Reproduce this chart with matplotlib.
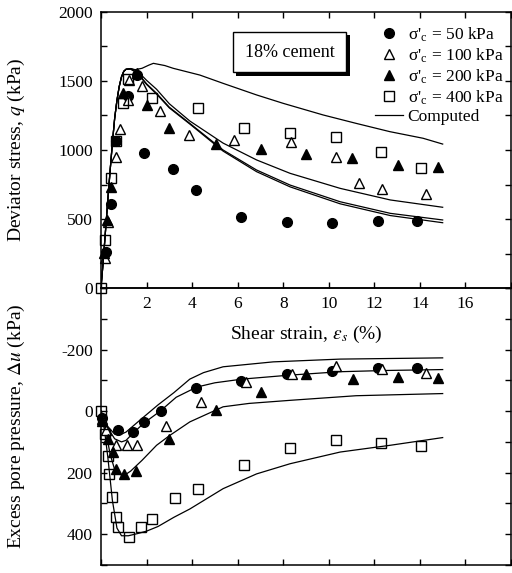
import matplotlib
matplotlib.use("Agg")
import matplotlib.pyplot as plt
import matplotlib.patheffects as pe

plt.rcParams["font.family"] = ["Liberation Serif", "DejaVu Serif"]
plt.rcParams["mathtext.fontset"] = "stix"

# --- deviator stress q (kPa) vs shear strain (%) ---
q50_x = [0.2, 0.43, 0.66, 1.17, 1.6, 1.9, 3.14, 4.17, 6.14, 8.16, 10.16, 12.18, 13.86]
q50_y = [263, 609, 1067, 1394, 1545, 976, 862, 710, 514, 481, 469, 488, 486]

q100_x = [0.18, 0.32, 0.66, 0.83, 1.17, 1.24, 1.81, 2.59, 3.86, 5.83, 8.33, 10.33, 11.33, 12.34, 14.25]
q100_y = [217, 480, 951, 1150, 1362, 1507, 1464, 1285, 1109, 1072, 1060, 951, 763, 715, 679]

q200_x = [0.13, 0.28, 0.42, 0.98, 1.6, 2.03, 2.98, 5.04, 7.02, 9.02, 11.04, 13.04, 14.8]
q200_y = [251, 493, 729, 1411, 1555, 1326, 1162, 1043, 1005, 971, 940, 891, 874]

q400_x = [0.0, 0.18, 0.42, 0.66, 0.95, 1.2, 2.22, 4.24, 6.27, 8.29, 10.3, 12.28, 14.04]
q400_y = [0, 348, 795, 1067, 1338, 1512, 1375, 1302, 1162, 1121, 1097, 988, 872]

# computed q curves
rise_x = [0.0, 0.1, 0.2, 0.3, 0.4, 0.5, 0.6, 0.7, 0.8, 0.9, 1.0, 1.1]
rise_y = [0, 200, 420, 640, 850, 1050, 1230, 1360, 1460, 1530, 1570, 1585]

qc400_x = rise_x + [1.3, 1.5, 1.8, 2.1, 2.3, 2.8, 3.17, 4.34, 5.36, 6.83, 8.0, 9.75, 11.2, 12.68, 14.14, 15.0]
qc400_y = rise_y + [1590, 1582, 1592, 1615, 1628, 1612, 1592, 1543, 1483, 1399, 1338, 1254, 1193, 1133, 1085, 1043]

qc200_x = rise_x + [1.3, 1.6, 2.0, 2.44, 3.0, 3.9, 5.36, 6.83, 8.3, 10.5, 12.7, 15.0]
qc200_y = rise_y + [1590, 1572, 1505, 1440, 1335, 1210, 1050, 928, 831, 722, 638, 585]

qc100_x = rise_x + [1.3, 1.6, 2.0, 2.44, 3.0, 3.9, 5.36, 6.83, 8.3, 10.5, 12.7, 15.0]
qc100_y = rise_y + [1588, 1560, 1480, 1411, 1310, 1193, 1000, 855, 746, 625, 541, 493]

qc50_x = rise_x + [1.3, 1.6, 2.0, 2.44, 3.0, 3.9, 5.36, 6.83, 8.3, 10.5, 12.7, 15.0]
qc50_y = rise_y + [1586, 1556, 1475, 1405, 1305, 1188, 992, 843, 733, 610, 525, 473]

# --- excess pore pressure du (kPa) vs shear strain (%) ---
u50_x = [0.03, 0.76, 1.39, 1.9, 2.62, 4.17, 6.14, 8.16, 10.16, 12.16, 13.86]
u50_y = [24, 62, 68, 37, 0, -76, -97, -122, -130, -141, -141]

u100_x = [0.05, 0.2, 0.66, 1.13, 1.59, 2.85, 4.39, 6.36, 8.37, 10.33, 12.34, 14.25]
u100_y = [27, 60, 111, 111, 111, 48, -30, -93, -122, -146, -138, -124]

u200_x = [0.05, 0.3, 0.54, 0.66, 1.02, 1.54, 3.0, 5.04, 7.02, 9.02, 11.07, 13.04, 14.8]
u200_y = [31, 90, 133, 187, 204, 196, 90, -3, -62, -119, -104, -111, -108]

u400_x = [0.0, 0.18, 0.29, 0.33, 0.47, 0.66, 0.76, 1.24, 1.74, 2.22, 3.27, 4.24, 6.27, 8.29, 10.3, 12.28, 14.04]
u400_y = [0, 73, 147, 204, 280, 345, 377, 410, 377, 350, 283, 252, 176, 119, 95, 103, 113]

uc_a_x = [0.0, 0.3, 0.6, 0.8, 1.1, 1.7, 2.5, 3.2, 3.9, 4.5, 5.36, 7.56, 10.5, 15.0]
uc_a_y = [0, 50, 75, 78, 68, 30, -20, -60, -104, -125, -144, -160, -169, -173]

uc_b_x = [0.0, 0.3, 0.6, 0.9, 1.1, 1.4, 1.9, 2.6, 3.3, 4.2, 5.0, 6.2, 8.3, 10.5, 12.5, 15.0]
uc_b_y = [0, 55, 90, 100, 95, 72, 38, 0, -45, -78, -92, -104, -117, -128, -132, -135]

uc_c_x = [0.0, 0.2, 0.4, 0.6, 0.8, 1.0, 1.3, 1.8, 2.44, 3.0, 3.9, 5.36, 6.5, 8.3, 11.2, 15.0]
uc_c_y = [0, 60, 140, 190, 205, 210, 195, 160, 111, 80, 35, -14, -25, -35, -50, -57]

uc_d_x = [0.0, 0.15, 0.3, 0.5, 0.7, 0.9, 1.2, 1.6, 2.0, 2.5, 3.2, 3.9, 5.36, 6.83, 8.3, 10.5, 12.7, 15.0]
uc_d_y = [0, 60, 150, 290, 380, 405, 405, 398, 390, 375, 345, 318, 252, 204, 171, 133, 111, 86]

x_ticks = list(range(0, 19, 2))
x_labels = ["" if t in (0, 18) else str(t) for t in x_ticks]

fig = plt.figure(figsize=(5.12, 5.73), dpi=100)
ax1 = fig.add_axes([101 / 512, 285 / 573, 410 / 512, 276 / 573])
ax2 = fig.add_axes([101 / 512, 8 / 573, 410 / 512, 277 / 573])
ax2.set_facecolor("none")

ms = 7
mk = dict(linestyle="none", markersize=ms, markeredgewidth=1.0, clip_on=False)

# top panel
ax1.plot(q50_x, q50_y, "o", color="black", label="σ'$_\\mathregular{c}$ = 50 kPa", **mk)
ax1.plot(q100_x, q100_y, "^", mfc="white", mec="black", label="σ'$_\\mathregular{c}$ = 100 kPa", **mk)
ax1.plot(q200_x, q200_y, "^", color="black", label="σ'$_\\mathregular{c}$ = 200 kPa", **mk)
ax1.plot(q400_x, q400_y, "s", mfc="none", mec="black", label="σ'$_\\mathregular{c}$ = 400 kPa", **mk)
ax1.plot(qc400_x, qc400_y, "-", color="black", lw=0.9, label="Computed")
ax1.plot(qc200_x, qc200_y, "-", color="black", lw=0.9)
ax1.plot(qc100_x, qc100_y, "-", color="black", lw=0.9)
ax1.plot(qc50_x, qc50_y, "-", color="black", lw=0.9)

ax1.set_xlim(0, 18)
ax1.set_ylim(0, 2000)
ax1.set_xticks(x_ticks)
ax1.set_xticklabels(x_labels)
ax1.set_yticks(range(0, 2001, 250))
ax1.set_yticklabels([str(v) if v % 500 == 0 else "" for v in range(0, 2001, 250)])
ax1.set_ylabel("Deviator stress, $q$ (kPa)", fontsize=14)
ax1.yaxis.set_label_coords(-0.18, 0.5)
ax1.text(0.5, -0.17, "Shear strain, $\\varepsilon_s$ (%)", transform=ax1.transAxes,
         ha="center", va="center", fontsize=14)

box = ax1.text(0.46, 0.855, "18% cement", transform=ax1.transAxes, ha="center", va="center",
               fontsize=13, bbox=dict(boxstyle="square,pad=0.65", fc="white", ec="black", lw=1))
box.get_bbox_patch().set_path_effects([
    pe.SimplePatchShadow(offset=(2.5, -2.5), shadow_rgbFace="black", alpha=1.0), pe.Normal()])

ax1.legend(loc="upper right", bbox_to_anchor=(0.99, 0.965), frameon=False, fontsize=12.5,
           handlelength=1.6, handletextpad=0.3, labelspacing=0.15, borderaxespad=0.0,
           borderpad=0.2)

# bottom panel
ax2.plot(uc_a_x, uc_a_y, "-", color="black", lw=0.9)
ax2.plot(uc_b_x, uc_b_y, "-", color="black", lw=0.9)
ax2.plot(uc_c_x, uc_c_y, "-", color="black", lw=0.9)
ax2.plot(uc_d_x, uc_d_y, "-", color="black", lw=0.9)
ax2.plot(u50_x, u50_y, "o", color="black", **mk)
ax2.plot(u100_x, u100_y, "^", mfc="white", mec="black", **mk)
ax2.plot(u200_x, u200_y, "^", color="black", **mk)
ax2.plot(u400_x, u400_y, "s", mfc="none", mec="black", **mk)

ax2.set_xlim(0, 18)
ax2.set_ylim(500, -400)
ax2.set_xticks(x_ticks)
ax2.set_xticklabels([])
ax2.set_yticks(range(-400, 501, 100))
ax2.set_yticklabels([str(v) if v in (-200, 0, 200, 400) else "" for v in range(-400, 501, 100)])
ax2.set_ylabel("Excess pore pressure, $\\Delta u$ (kPa)", fontsize=14)
ax2.yaxis.set_label_coords(-0.18, 0.5)

for ax in (ax1, ax2):
    ax.tick_params(direction="in", length=4, width=1, labelsize=12.5, pad=6,
                   right=True, top=True)
    for s in ax.spines.values():
        s.set_linewidth(1.1)
ax2.tick_params(top=False)

fig.savefig("out.png", dpi=100)
